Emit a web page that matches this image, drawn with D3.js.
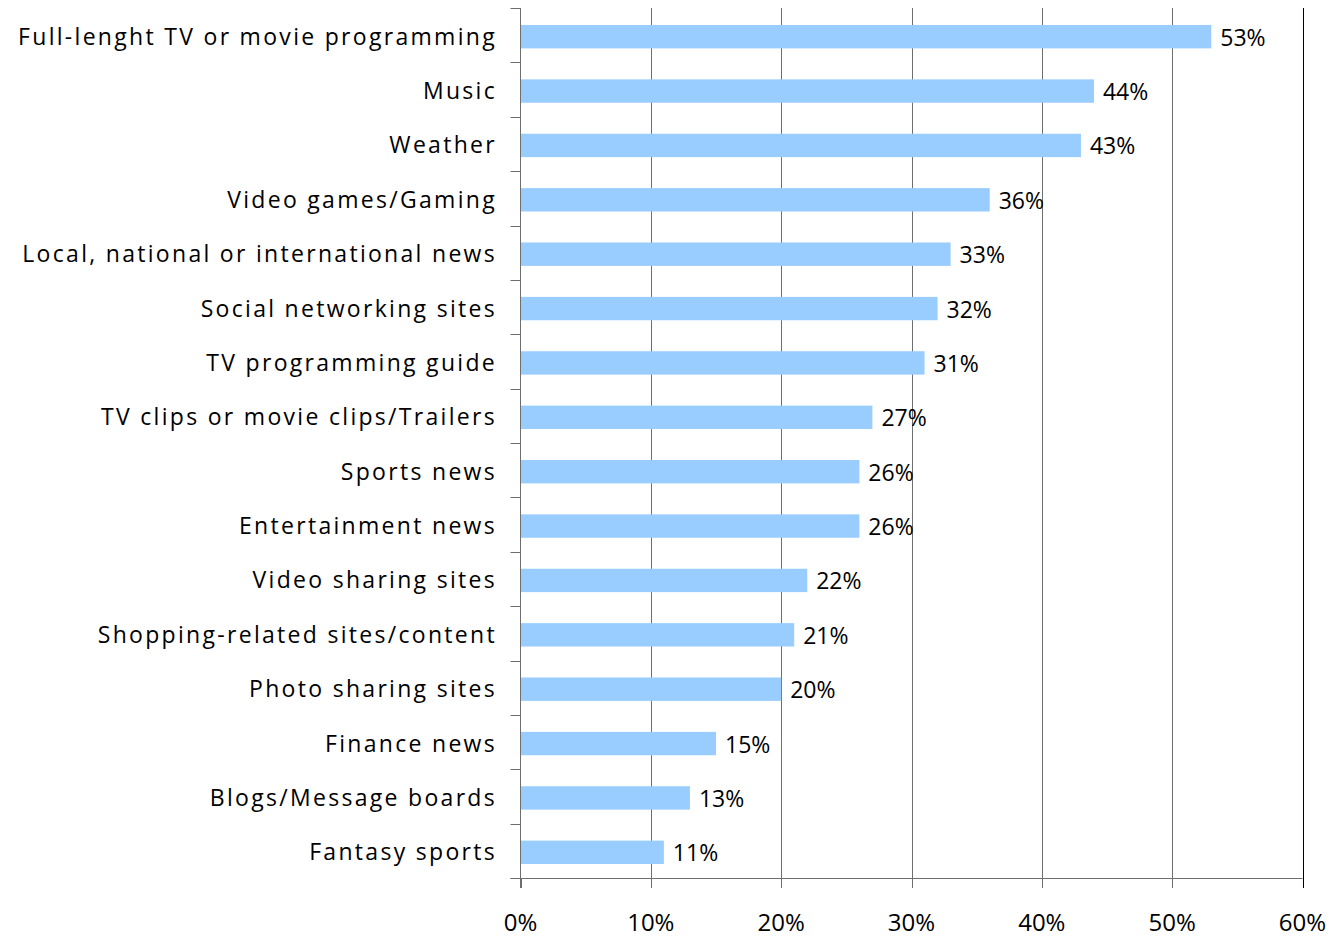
<!DOCTYPE html>
<html>
<head>
<meta charset="utf-8">
<script src="https://cdn.jsdelivr.net/npm/d3@7"></script>
<style>
  html, body { margin: 0; padding: 0; background: #fff; }
  svg { display: block; }
  text { font-family: "Open Sans", "Noto Sans", sans-serif; fill: #000; }
</style>
</head>
<body>
<svg id="chart" width="1335" height="939"></svg>
<script>
// Share of respondents by content type
const categories = [
  "Full-lenght TV or movie programming",
  "Music",
  "Weather",
  "Video games/Gaming",
  "Local, national or international news",
  "Social networking sites",
  "TV programming guide",
  "TV clips or movie clips/Trailers",
  "Sports news",
  "Entertainment news",
  "Video sharing sites",
  "Shopping-related sites/content",
  "Photo sharing sites",
  "Finance news",
  "Blogs/Message boards",
  "Fantasy sports"
];
const values = [53, 44, 43, 36, 33, 32, 31, 27, 26, 26, 22, 21, 20, 15, 13, 11];
const xTicks = [0, 10, 20, 30, 40, 50, 60];

const svg = d3.select("#chart");
const plotLeft = 520.5, plotRight = 1302.5, plotTop = 8, plotBottom = 878;

const x = d3.scaleLinear().domain([0, 60]).range([plotLeft, plotRight]);
const y = d3.scaleBand().domain(categories).range([plotTop, plotBottom]).paddingInner(0.57).paddingOuter(0.285);

// vertical gridlines
svg.append("g").selectAll("line").data(xTicks.slice(1)).join("line")
  .attr("x1", d => Math.round(x(d)) + 0.5).attr("x2", d => Math.round(x(d)) + 0.5)
  .attr("y1", plotTop).attr("y2", plotBottom)
  .attr("stroke", d => d === 60 ? "#000" : "#6e6e6e").attr("stroke-width", 1);

// bars
svg.append("g").selectAll("rect").data(values).join("rect")
  .attr("x", x(0))
  .attr("y", (d, i) => y(categories[i]) + 1.5)
  .attr("width", d => x(d) - x(0))
  .attr("height", y.bandwidth())
  .attr("fill", "#99ccff");

// value labels
svg.append("g").selectAll("text").data(values).join("text")
  .attr("x", d => x(d) + 9)
  .attr("y", (d, i) => y(categories[i]) + 1.5 + y.bandwidth() / 2 + 9)
  .attr("font-size", 23)
  .text(d => d + "%");

// y axis with ticks at band boundaries
const step = (plotBottom - plotTop) / categories.length;
const yAxis = svg.append("g");
yAxis.append("line").attr("x1", plotLeft).attr("x2", plotLeft).attr("y1", plotTop).attr("y2", plotBottom + 10)
  .attr("stroke", "#6e6e6e");
yAxis.selectAll("line.tick").data(d3.range(categories.length + 1)).join("line")
  .attr("class", "tick")
  .attr("x1", plotLeft - 10).attr("x2", plotLeft)
  .attr("y1", i => Math.round(plotTop + i * step) + 0.5).attr("y2", i => Math.round(plotTop + i * step) + 0.5)
  .attr("stroke", "#6e6e6e");

// category labels
svg.append("g").selectAll("text").data(categories).join("text")
  .attr("x", 497)
  .attr("y", d => y(d) + 1.5 + y.bandwidth() / 2 + 8)
  .attr("text-anchor", "end")
  .attr("font-size", 23)
  .attr("letter-spacing", "2.3px")
  .text(d => d);

// x axis
const xAxis = svg.append("g");
xAxis.append("line").attr("x1", plotLeft - 10).attr("x2", plotRight).attr("y1", plotBottom + 0.5).attr("y2", plotBottom + 0.5)
  .attr("stroke", "#6e6e6e");
xAxis.selectAll("line.tick").data(xTicks).join("line")
  .attr("class", "tick")
  .attr("x1", d => Math.round(x(d)) + 0.5).attr("x2", d => Math.round(x(d)) + 0.5)
  .attr("y1", plotBottom).attr("y2", plotBottom + 10)
  .attr("stroke", d => d === 60 ? "#000" : "#6e6e6e");
xAxis.selectAll("text").data(xTicks).join("text")
  .attr("x", d => x(d))
  .attr("y", 931)
  .attr("text-anchor", "middle")
  .attr("font-size", 24)
  .text(d => d + "%");
</script>
</body>
</html>
